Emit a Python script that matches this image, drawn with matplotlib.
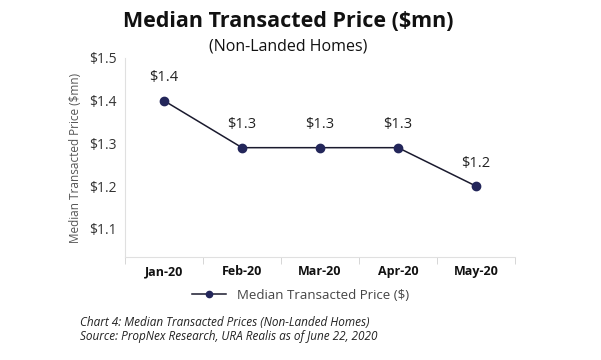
import matplotlib.pyplot as plt

plt.rcParams['font.family'] = ['Open Sans', 'DejaVu Sans']

months = ['Jan-20', 'Feb-20', 'Mar-20', 'Apr-20', 'May-20']
price = [1.40, 1.29, 1.29, 1.29, 1.20]
price_labels = ['$1.4', '$1.3', '$1.3', '$1.3', '$1.2']
y_ticks = [1.1, 1.2, 1.3, 1.4, 1.5]
y_tick_labels = ['$1.1', '$1.2', '$1.3', '$1.4', '$1.5']

fig = plt.figure(figsize=(6.01, 3.6), dpi=100)
ax = fig.add_axes([0.208, 0.286, 0.649, 0.553])

x = range(len(months))
ax.plot(x, price, color='#1a1a2e', linewidth=1.1, marker='o', markersize=6,
        markerfacecolor='#23265a', markeredgecolor='#23265a',
        label='Median Transacted Price ($)')

for i, v in enumerate(price):
    ax.annotate(price_labels[i], (i, v), xytext=(0, 11), textcoords='offset points',
                ha='center', va='bottom', fontsize=10.5, color='#222222')

ax.set_xlim(-0.5, len(months) - 0.5)
ax.set_ylim(1.034, 1.5)
ax.set_yticks(y_ticks)
ax.set_yticklabels(y_tick_labels, fontsize=10, color='#333333')
ax.set_xticks(list(x))
ax.set_xticklabels(months, fontsize=9, fontweight='bold', color='#111111')
ax.set_xticks([i - 0.5 for i in range(len(months) + 1)], minor=True)
ax.tick_params(axis='x', which='major', length=0, pad=6)
ax.tick_params(axis='x', which='minor', length=5, color='#d0d0d0', direction='out')
ax.tick_params(axis='y', length=0, pad=6)

for s in ['top', 'right']:
    ax.spines[s].set_visible(False)
ax.spines['left'].set_color('#e0e0e0')
ax.spines['bottom'].set_color('#e0e0e0')

ax.set_ylabel('Median Transacted Price ($mn)', fontsize=8.5, color='#555555', labelpad=5)

fig.text(0.48, 0.94, 'Median Transacted Price ($mn)', ha='center', va='center',
         fontsize=15.5, fontweight='bold', color='#111111')
fig.text(0.48, 0.872, '(Non-Landed Homes)', ha='center', va='center',
         fontsize=11.5, color='#111111')

fig.legend(loc='center', bbox_to_anchor=(0.5, 0.18), frameon=False, fontsize=9.5,
           labelcolor='#444444', handlelength=2.6, markerscale=0.75)

fig.text(0.133, 0.105, 'Chart 4: Median Transacted Prices (Non-Landed Homes)',
         fontsize=8.5, style='italic', color='#222222', va='center')
fig.text(0.133, 0.065, 'Source: PropNex Research, URA Realis as of June 22, 2020',
         fontsize=8.5, style='italic', color='#222222', va='center')

fig.savefig('out.png', dpi=100)
